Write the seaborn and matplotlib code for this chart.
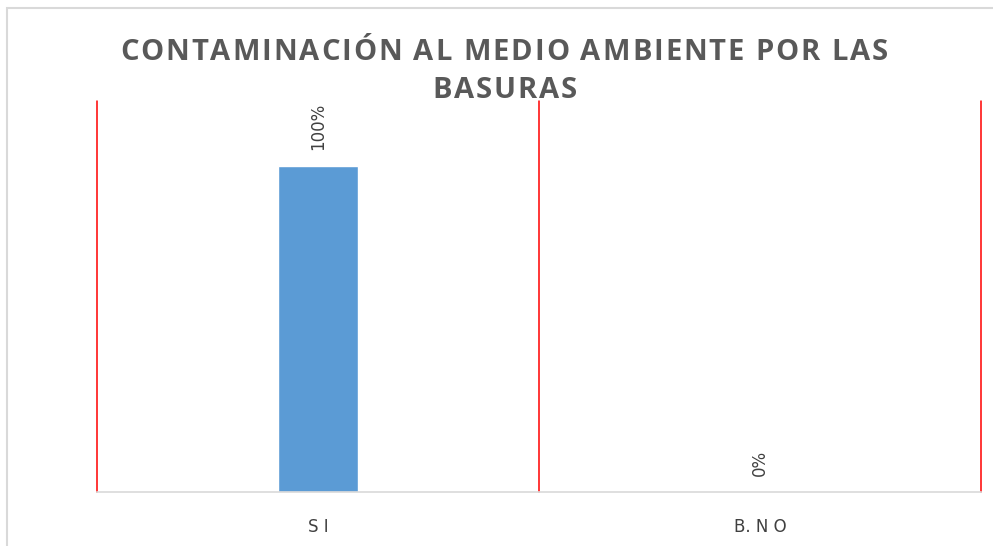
import matplotlib
matplotlib.use("Agg")
import matplotlib.pyplot as plt
import matplotlib.patches as patches
from matplotlib.font_manager import FontProperties
from matplotlib.textpath import TextToPath
import pandas as pd
import seaborn as sns

sns.set_theme(style="white")
plt.rcParams['font.family'] = ['DejaVu Sans']

# Data
categories = ["S I", "B. N O"]
values = [1.00, 0.00]
value_labels = ["100%", "0%"]
title_lines = ["CONTAMINACIÓN AL MEDIO AMBIENTE POR LAS", "BASURAS"]

W, H, DPI = 993, 546, 100
ttp = TextToPath()


def advance(ch, prop):
    """Advance width of a character in pixels."""
    w2 = ttp.get_text_width_height_descent("H" + ch + "H", prop, ismath=False)[0]
    w1 = ttp.get_text_width_height_descent("HH", prop, ismath=False)[0]
    return (w2 - w1) * DPI / 72


def spaced_text(fig, s, xc, y_base, prop, spacing, **kw):
    """Draw text char by char with extra letter spacing, centred at xc (px)."""
    advs = [advance(c, prop) for c in s]
    total = sum(advs) + spacing * (len(s) - 1)
    x = xc - total / 2
    for c, a in zip(s, advs):
        fig.text((x + a / 2) / W, 1 - y_base / H, c, ha="center",
                 va="baseline", fontproperties=prop, **kw)
        x += a + spacing


df = pd.DataFrame({"categoria": categories, "valor": values})

fig = plt.figure(figsize=(W / DPI, H / DPI), dpi=DPI)
ax = fig.add_axes([97 / W, 1 - 492 / H, (981 - 97) / W, (492 - 101) / H])

sns.barplot(data=df, x="categoria", y="valor", color="#5b9bd5",
            width=0.18, saturation=1, ax=ax)

ax.set_ylim(0, 1.2)
ax.set_xlim(-0.5, len(categories) - 0.5)
ax.set_yticks([])
ax.set_xlabel("")
ax.set_ylabel("")
ax.tick_params(axis="x", length=0, pad=19, labelsize=12, labelcolor="#404040")

for s in ["top", "left", "right"]:
    ax.spines[s].set_visible(False)
ax.spines["bottom"].set_color("#d9d9d9")
ax.spines["bottom"].set_linewidth(1.2)

# red category separators
for xpos in [i - 0.5 for i in range(len(categories) + 1)]:
    ax.axvline(xpos, ymin=0, ymax=1, color="#ff0000", lw=1.1, zorder=0,
               clip_on=False)

# data labels
for i, (v, lab) in enumerate(zip(values, value_labels)):
    ax.annotate(lab, (i, v), xytext=(0, 11.5), textcoords="offset points",
                rotation=90, ha="center", va="bottom", fontsize=12,
                color="#404040")

# title with letter spacing
tprop = FontProperties(family="Open Sans", weight="bold", size=21)
advs1 = [advance(c, tprop) for c in title_lines[0]]
spacing = (768 - sum(advs1)) / (len(title_lines[0]) - 1)
spaced_text(fig, title_lines[0], 504, 60, tprop, spacing, color="#595959")
spaced_text(fig, title_lines[1], 504.5, 98, tprop, spacing, color="#595959")

# outer frame
fig.patches.append(patches.Rectangle((7 / W, -0.05), 1.1, 1 - 8 / H + 0.05,
                                     transform=fig.transFigure, fill=False,
                                     edgecolor="#d9d9d9", lw=1.5))

fig.savefig("out.png", dpi=DPI)
